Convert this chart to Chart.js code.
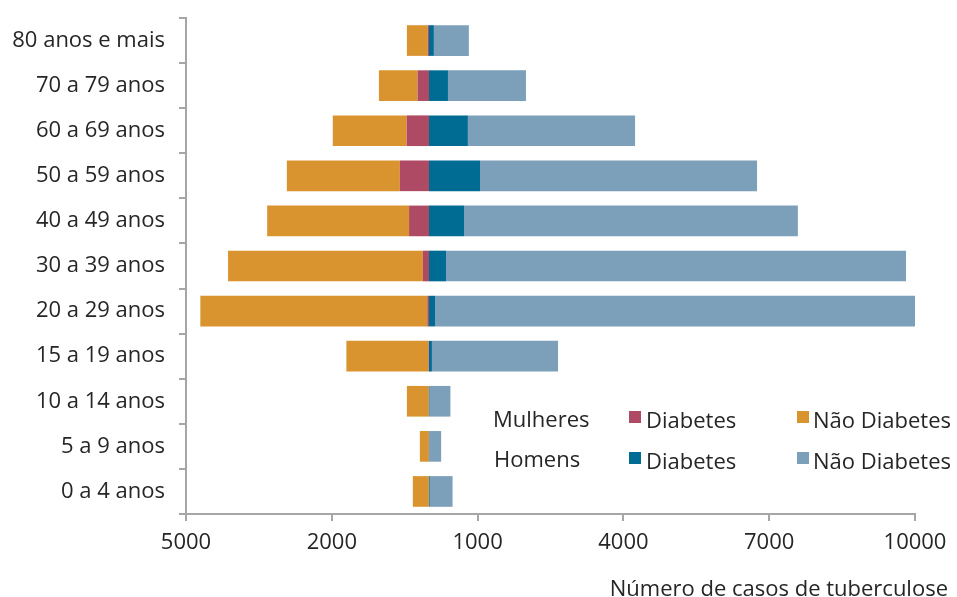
<!DOCTYPE html>
<html lang="pt">
<head>
<meta charset="utf-8">
<title>Casos de tuberculose por faixa etária</title>
<script src="https://cdn.jsdelivr.net/npm/chart.js@4.4.1/dist/chart.umd.min.js"></script>
<style>
  body { margin: 0; background: #fff; }
  #wrap { position: relative; width: 957px; height: 597px; font-family: "Open Sans", sans-serif; color: #262626; }
  .txt { position: absolute; font-size: 22px; line-height: 24px; white-space: nowrap; }
  .box { position: absolute; width: 12px; height: 12px; }
</style>
</head>
<body>
<div id="wrap">
  <canvas id="tbChart"></canvas>

  <div class="txt" style="left:493px; top:406px">Mulheres</div>
  <div class="box" style="left:629px; top:411px; background:#AE4A63"></div>
  <div class="txt" style="left:646px; top:407px">Diabetes</div>
  <div class="box" style="left:797px; top:411px; background:#D9942F"></div>
  <div class="txt" style="left:813px; top:407px">Não Diabetes</div>

  <div class="txt" style="left:494px; top:446px">Homens</div>
  <div class="box" style="left:629px; top:452px; background:#006B93"></div>
  <div class="txt" style="left:646px; top:448px">Diabetes</div>
  <div class="box" style="left:797px; top:452px; background:#7C9FBA"></div>
  <div class="txt" style="left:813px; top:448px">Não Diabetes</div>

  <div class="txt" style="right:9px; top:575px">Número de casos de tuberculose</div>
</div>
<script>
const faixas = ['80 anos e mais', '70 a 79 anos', '60 a 69 anos', '50 a 59 anos', '40 a 49 anos',
                '30 a 39 anos', '20 a 29 anos', '15 a 19 anos', '10 a 14 anos', '5 a 9 anos', '0 a 4 anos'];

// mulheres (lado esquerdo)
const mulheresDiabetes    = [25, 235, 460, 600, 410, 125, 35, 10, 5, 3, 3];
const mulheresNaoDiabetes = [430, 795, 1520, 2325, 2920, 4010, 4670, 1690, 450, 185, 330];

// homens (lado direito)
const homensDiabetes    = [100, 390, 800, 1050, 720, 350, 125, 60, 10, 5, 15];
const homensNaoDiabetes = [720, 1605, 3440, 5700, 6870, 9465, 9960, 2595, 430, 245, 470];

const xTicks = [-5000, -2000, 1000, 4000, 7000, 10000];

const eixoCor = '#A6A6A6';
const textoCor = '#262626';
const fonte = { family: '"Open Sans", sans-serif', size: 22 };

const ctx = document.getElementById('tbChart').getContext('2d');

new Chart(ctx, {
  type: 'bar',
  data: {
    labels: faixas,
    datasets: [
      { label: 'Mulheres Diabetes', data: mulheresDiabetes.map(v => -v), backgroundColor: '#AE4A63' },
      { label: 'Mulheres Não Diabetes', data: mulheresNaoDiabetes.map(v => -v), backgroundColor: '#D9942F' },
      { label: 'Homens Diabetes', data: homensDiabetes, backgroundColor: '#006B93' },
      { label: 'Homens Não Diabetes', data: homensNaoDiabetes, backgroundColor: '#7C9FBA' }
    ]
  },
  options: {
    indexAxis: 'y',
    responsive: true,
    maintainAspectRatio: false,
    animation: false,
    datasets: {
      bar: { categoryPercentage: 1, barPercentage: 0.68, borderWidth: 0 }
    },
    layout: { padding: { top: 18, right: 42, left: 0, bottom: 0 } },
    plugins: {
      legend: { display: false },
      tooltip: {
        callbacks: {
          label: item => item.dataset.label + ': ' + Math.abs(item.raw)
        }
      }
    },
    scales: {
      x: {
        stacked: true,
        min: -5000,
        max: 10000,
        afterBuildTicks: scale => { scale.ticks = xTicks.map(v => ({ value: v })); },
        afterFit: scale => { scale.height = 597 - 514; },
        border: { color: eixoCor, width: 2 },
        grid: { drawOnChartArea: false, color: eixoCor, lineWidth: 2, tickLength: 7 },
        ticks: {
          color: textoCor,
          font: fonte,
          padding: 9,
          maxRotation: 0,
          callback: v => String(Math.abs(v))
        }
      },
      y: {
        stacked: true,
        afterFit: scale => {
          scale.width = 186;
          // rótulos ficam dentro das categorias, sem folga extra em cima/baixo
          scale.paddingTop = 0;
          scale.paddingBottom = 0;
        },
        border: { color: eixoCor, width: 2 },
        grid: { drawOnChartArea: false, color: eixoCor, lineWidth: 2, tickLength: 7, offset: true },
        ticks: { color: textoCor, font: fonte, padding: 14 }
      }
    }
  }
});
</script>
</body>
</html>
